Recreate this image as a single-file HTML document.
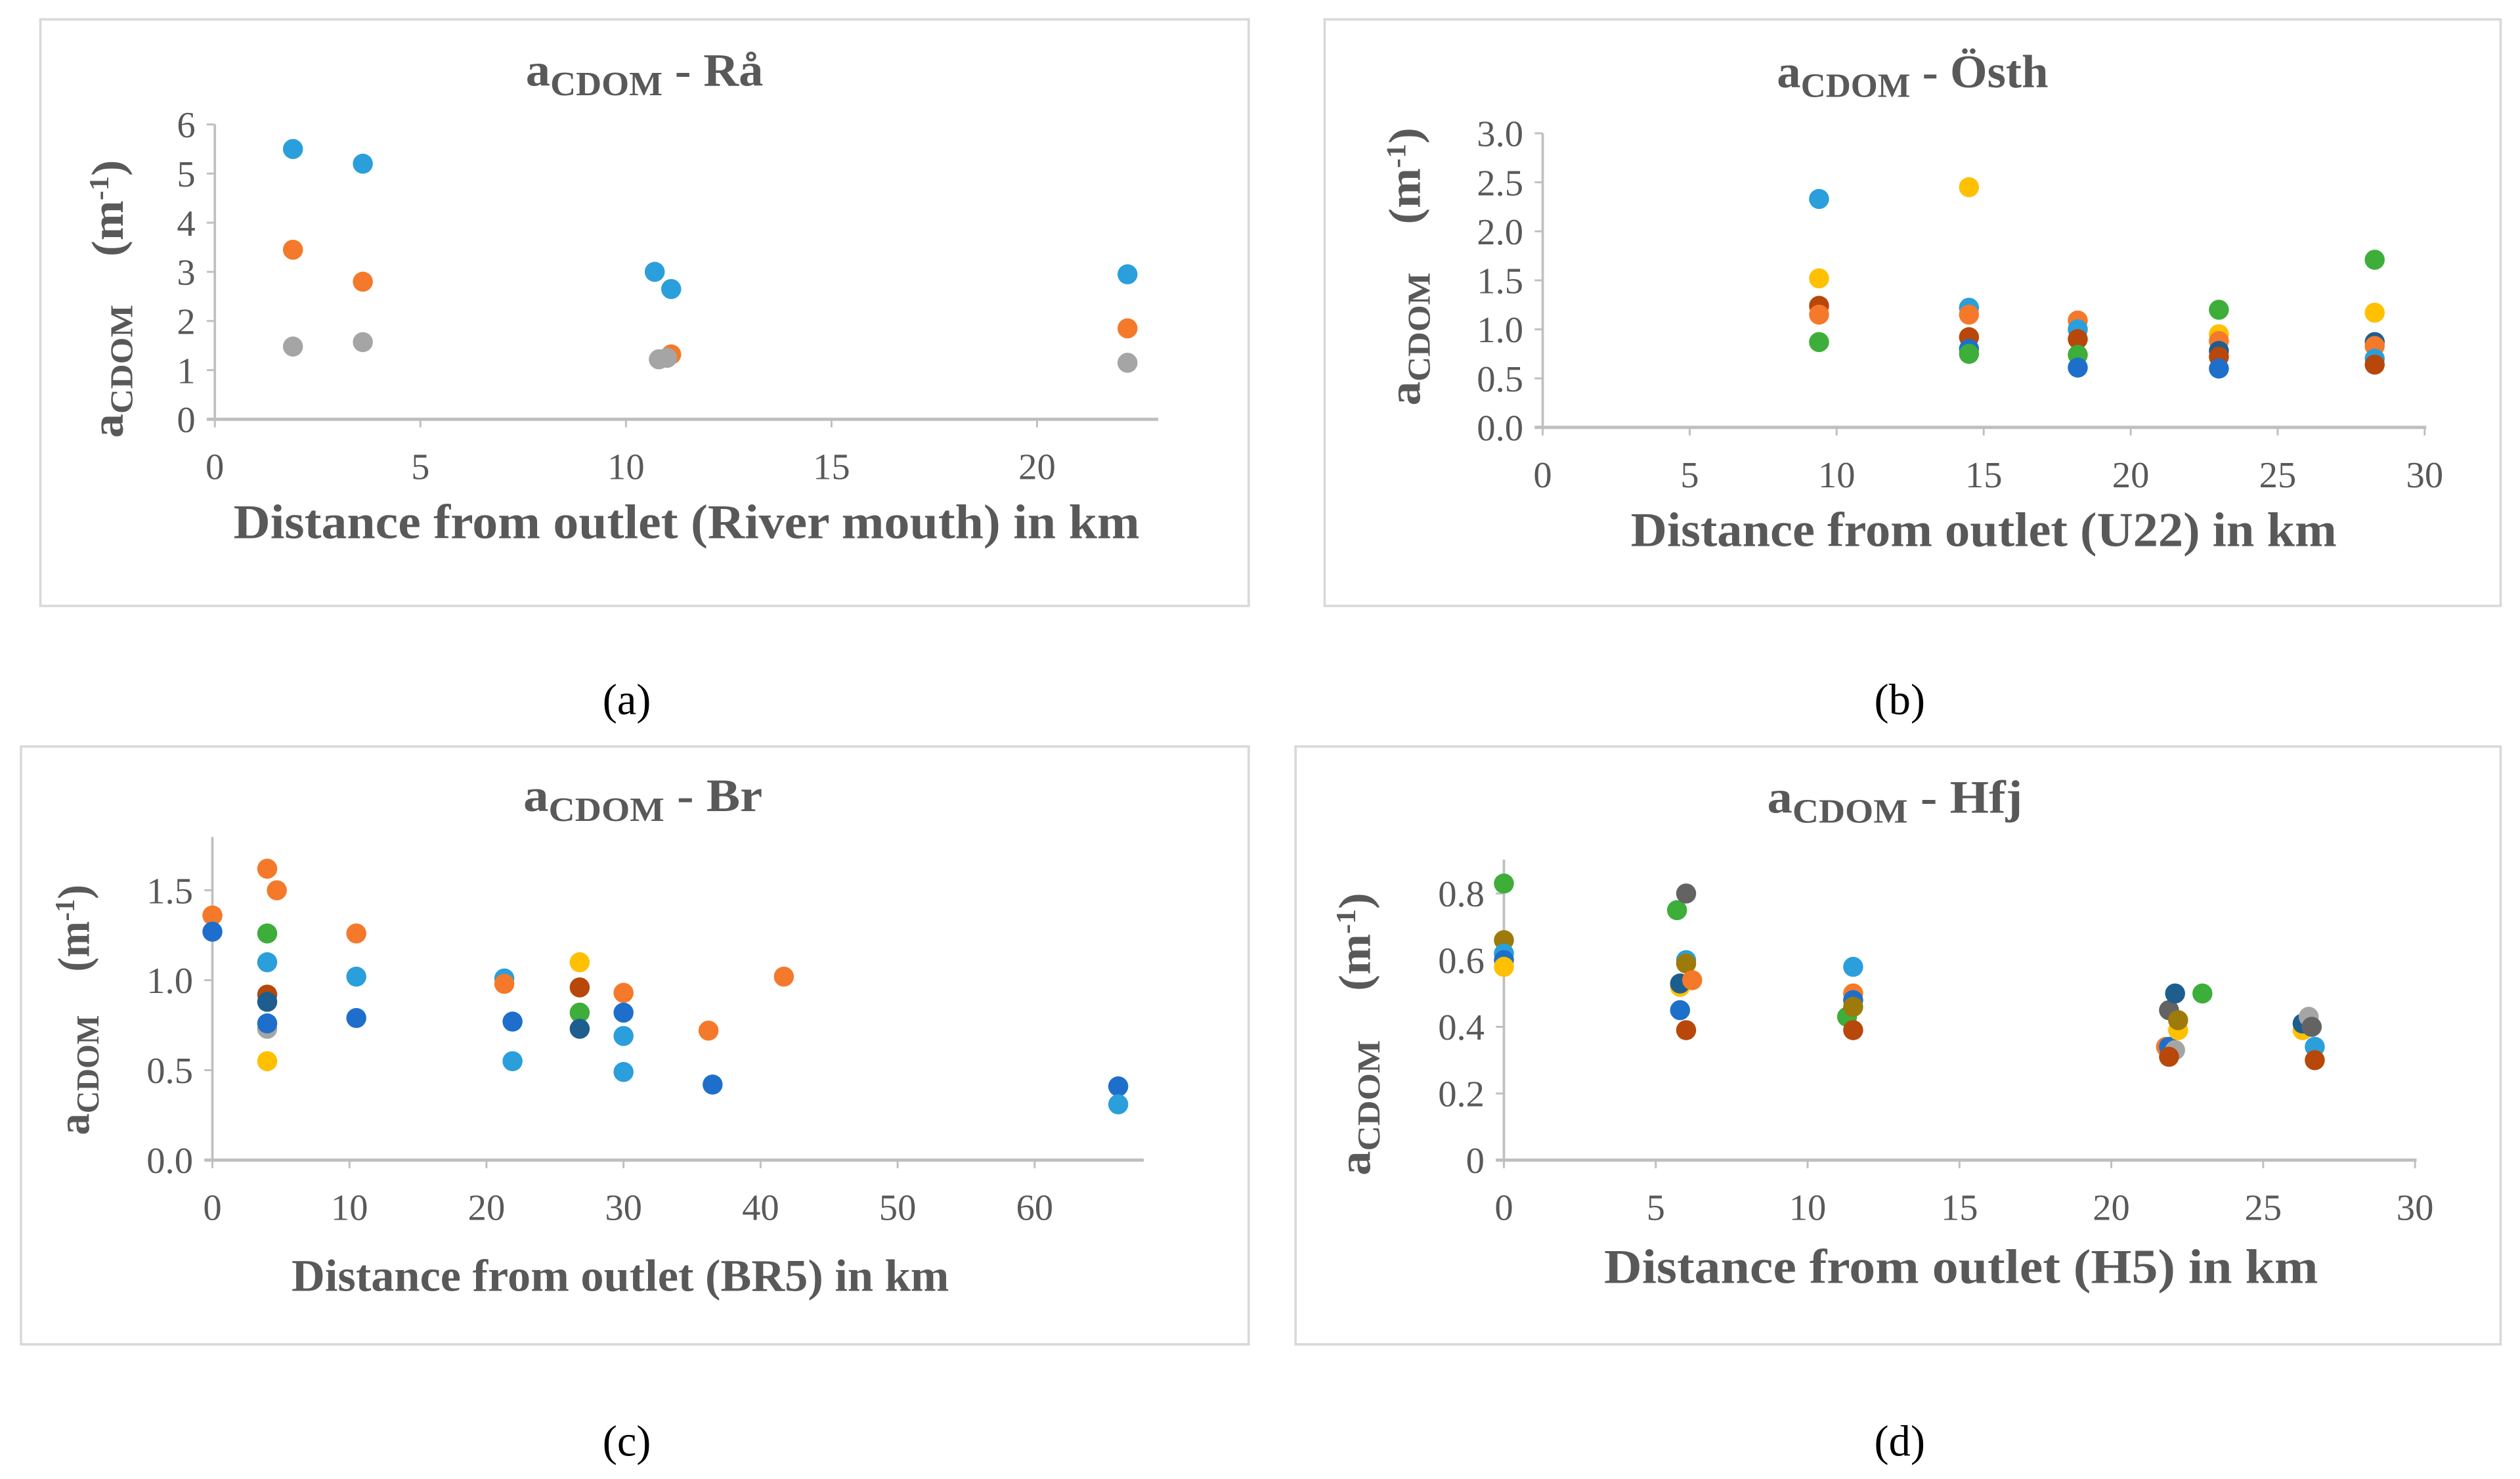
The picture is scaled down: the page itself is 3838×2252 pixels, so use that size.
<!DOCTYPE html>
<html><head><meta charset="utf-8">
<style>
html,body{margin:0;padding:0;background:#fff;}
svg{display:block;}
</style></head>
<body>
<svg id="fig" xmlns="http://www.w3.org/2000/svg" width="3838" height="2252" viewBox="0 0 1560 915.35" preserveAspectRatio="none" font-family="'Liberation Serif', serif">
<rect x="0" y="0" width="1560" height="916" fill="#fff"/>
<g id="captions" fill="#000" font-size="27" text-anchor="middle">
<text x="388" y="442">(a)</text>
<text x="1176" y="442">(b)</text>
<text x="388" y="901">(c)</text>
<text x="1176" y="901">(d)</text>
</g>
</svg>
<script>
// ---- Panel a: Rå ----
const aX = [1.9,3.6,10.7,11.1,22.2, 1.9,3.6,11.1,22.2, 1.9,3.6,10.8,11.0,22.2];
const aY = [5.5,5.2,3.0,2.65,2.95, 3.45,2.8,1.32,1.85, 1.48,1.57,1.22,1.25,1.15];
const aS = ['lb','lb','lb','lb','lb','or','or','or','or','gy','gy','gy','gy','gy'];
const aXTicks = [0,5,10,15,20];
const aYTicks = [0,1,2,3,4,5,6];
const aYLabels = ['0','1','2','3','4','5','6'];
// ---- Panel b: Östh ----
const bX = [9.4,9.4,9.4,9.4,9.4, 14.5,14.5,14.5,14.5,14.5,14.5, 18.2,18.2,18.2,18.2,18.2, 23,23,23,23,23,23, 28.3,28.3,28.3,28.3,28.3,28.3];
const bY = [2.33,1.52,1.24,1.15,0.87, 2.45,1.22,1.15,0.92,0.8,0.75, 1.09,1.0,0.9,0.74,0.61, 1.2,0.95,0.88,0.78,0.72,0.6, 1.71,1.17,0.87,0.83,0.7,0.64];
const bS = ['lb','ye','br','or','gr', 'ye','lb','or','br','bl','gr', 'or','lb','br','gr','bl', 'gr','ye','or','nv','br','bl', 'gr','ye','nv','or','lb','br'];
const bXTicks = [0,5,10,15,20,25,30];
const bYTicks = [0,0.5,1,1.5,2,2.5,3];
const bYLabels = ['0.0','0.5','1.0','1.5','2.0','2.5','3.0'];
// ---- Panel c: Br ----
const cX = [0,0, 4,4,4,4,4,4,4,4, 4.7, 10.5,10.5,10.5, 21.3,21.3,21.9,21.9, 26.8,26.8,26.8,26.8, 30,30,30,30, 36.2,36.5, 41.7, 66.1,66.1];
const cY = [1.36,1.27, 1.62,1.26,1.1,0.92,0.88,0.73,0.76,0.55, 1.5, 1.26,1.02,0.79, 1.01,0.98,0.77,0.55, 1.1,0.96,0.82,0.73, 0.93,0.82,0.69,0.49, 0.72,0.42, 1.02, 0.41,0.31];
const cS = ['or','bl', 'or','gr','lb','br','nv','gy','bl','ye', 'or', 'or','lb','bl', 'lb','or','bl','lb', 'ye','br','gr','nv', 'or','bl','lb','lb', 'or','bl', 'or', 'bl','lb'];
const cXTicks = [0,10,20,30,40,50,60];
const cYTicks = [0,0.5,1,1.5];
const cYLabels = ['0.0','0.5','1.0','1.5'];
// ---- Panel d: Hfj ----
const dX = [0,0,0,0,0, 5.7,5.8,5.8,5.8, 6,6,6,6.2,6, 11.3,11.5,11.5,11.5,11.5,11.5,11.5, 21.8,21.9,21.9,22.1,22.1,22.2,22.2,21.9, 23, 26.3,26.3,26.5,26.6,26.7,26.7];
const dY = [0.83,0.66,0.62,0.6,0.58, 0.75,0.52,0.53,0.45, 0.8,0.6,0.59,0.54,0.39, 0.43,0.58,0.5,0.5,0.48,0.46,0.39, 0.34,0.34,0.45,0.33,0.5,0.39,0.42,0.31, 0.5, 0.39,0.41,0.43,0.4,0.34,0.3];
const dS = ['gr','ol','lb','bl','ye', 'gr','ye','nv','bl', 'dg','lb','ol','or','br', 'gr','lb','ye','or','bl','ol','br', 'or','bl','dg','gy','nv','ye','ol','br', 'gr', 'ye','nv','gy','dg','lb','br'];
const dXTicks = [0,5,10,15,20,25,30];
const dYTicks = [0,0.2,0.4,0.6,0.8];
const dYLabels = ['0','0.2','0.4','0.6','0.8'];

const COLORS = {lb:'#2A9FDB',bl:'#1E6FCC',or:'#F5792A',gy:'#A5A5A5',ye:'#FFC000',gr:'#3DAE3A',nv:'#1D5E8E',br:'#B8470A',dg:'#636363',ol:'#9E7A0A'};
const NS = 'http://www.w3.org/2000/svg';
const svg = document.getElementById('fig');

function mk(tag, attrs, parent){
  const e = document.createElementNS(NS, tag);
  for (const k in attrs) e.setAttribute(k, attrs[k]);
  parent.appendChild(e);
  return e;
}

function panel(cfg){
  const g = mk('g', {}, svg);
  
  
  const box = mk('rect', {x:cfg.box[0], y:cfg.box[1], width:cfg.box[2], height:cfg.box[3], fill:'#fff', stroke:'#d9d9d9', 'stroke-width':1.5}, g);
  
  
  const sx = v => cfg.x0 + v * (cfg.x1 - cfg.x0) / cfg.xMax;
  const sy = v => cfg.y0 - v * (cfg.y0 - cfg.y1) / cfg.yMax;
  const yAxis = mk('line', {x1:cfg.x0, y1:cfg.y0, x2:cfg.x0, y2:cfg.yTop, stroke:'#bfbfbf', 'stroke-width':1.5}, g);
  
  
  const xAxis = mk('line', {x1:cfg.x0 - 5, y1:cfg.y0, x2:cfg.xRight, y2:cfg.y0, stroke:'#bfbfbf', 'stroke-width':2}, g);
  
  
  cfg.yt.forEach((v, i) => {
    mk('line', {x1:cfg.x0 - 5, x2:cfg.x0, y1:sy(v), y2:sy(v), stroke:'#bfbfbf', 'stroke-width':1.2}, g);
    const t = mk('text', {x:cfg.x0 - 12, y:sy(v) + 8, 'text-anchor':'end', 'font-size':23, fill:'#595959'}, g);
    t.textContent = cfg.yl[i];
    
    
  });
  cfg.xt.forEach(v => {
    mk('line', {x1:sx(v), x2:sx(v), y1:cfg.y0, y2:cfg.y0 + 5, stroke:'#bfbfbf', 'stroke-width':1.2}, g);
    const t = mk('text', {x:sx(v), y:cfg.y0 + 37, 'text-anchor':'middle', 'font-size':23, fill:'#595959'}, g);
    t.textContent = String(v);
    
    
  });
  cfg.xs.forEach((xv, i) => {
    const c = mk('circle', {cx:sx(xv), cy:sy(cfg.ys[i]), r:6.2, fill:COLORS[cfg.ss[i]]}, g);
    
    
  });
  const ti = mk('text', {x:cfg.title[0], y:cfg.title[1], 'text-anchor':'middle', 'font-size':29, 'font-weight':'bold', fill:'#595959', textLength:cfg.titleLen, lengthAdjust:'spacingAndGlyphs'}, g);
  ti.innerHTML = 'a<tspan font-size="21" dy="6">CDOM</tspan><tspan dy="-6"> - ' + cfg.name + '</tspan>';
  
  
  const xt = mk('text', {x:cfg.xTitle[0], y:cfg.xTitle[1], 'text-anchor':'middle', 'font-size':cfg.xfs, 'font-weight':'bold', fill:'#595959', textLength:cfg.xLen, lengthAdjust:'spacingAndGlyphs'}, g);
  xt.textContent = cfg.xLabel;
  
  
  const yt = mk('text', {x:0, y:0, 'text-anchor':'middle', 'font-size':28, 'font-weight':'bold', fill:'#595959', textLength:cfg.yLen, lengthAdjust:'spacingAndGlyphs', transform:'translate(' + cfg.yTitle[0] + ',' + cfg.yTitle[1] + ') rotate(-90)'}, g);
  yt.innerHTML = 'a<tspan font-size="20" dy="6">CDOM</tspan><tspan dy="-6" xml:space="preserve">    (m</tspan><tspan font-size="17" dy="-9">-1</tspan><tspan dy="9">)</tspan>';
  
  
}

panel({id:'a', name:'Rå', box:[25,12,748,363], x0:133, x1:642, xMax:20, y0:259.5, y1:77, yMax:6, yTop:77, xRight:717,
  xt:aXTicks, yt:aYTicks, yl:aYLabels, xs:aX, ys:aY, ss:aS, title:[399,53], titleLen:147, xTitle:[425,333], xfs:30, xLen:561,
  xLabel:'Distance from outlet (River mouth) in km', yTitle:[76,185], yLen:172});
panel({id:'b', name:'Östh', box:[820,12,728,363], x0:955, x1:1501, xMax:30, y0:264.5, y1:82.5, yMax:3, yTop:82.5, xRight:1502,
  xt:bXTicks, yt:bYTicks, yl:bYLabels, xs:bX, ys:bY, ss:bS, title:[1184,54], titleLen:168, xTitle:[1228,338], xfs:30, xLen:437,
  xLabel:'Distance from outlet (U22) in km', yTitle:[879,165], yLen:172});
panel({id:'c', name:'Br', box:[13,462,760,370], x0:131.5, x1:640.5, xMax:60, y0:718, y1:551, yMax:1.5, yTop:518, xRight:708,
  xt:cXTicks, yt:cYTicks, yl:cYLabels, xs:cX, ys:cY, ss:cS, title:[398,502], titleLen:148, xTitle:[384,799], xfs:28, xLen:407,
  xLabel:'Distance from outlet (BR5) in km', yTitle:[55,625], yLen:155});
panel({id:'d', name:'Hfj', box:[802,462,746,370], x0:931, x1:1495, xMax:30, y0:718, y1:553, yMax:0.8, yTop:532, xRight:1496,
  xt:dXTicks, yt:dYTicks, yl:dYLabels, xs:dX, ys:dY, ss:dS, title:[1173,503], titleLen:158, xTitle:[1214,794], xfs:30, xLen:442,
  xLabel:'Distance from outlet (H5) in km', yTitle:[848,640], yLen:175});
</script>
</body></html>
